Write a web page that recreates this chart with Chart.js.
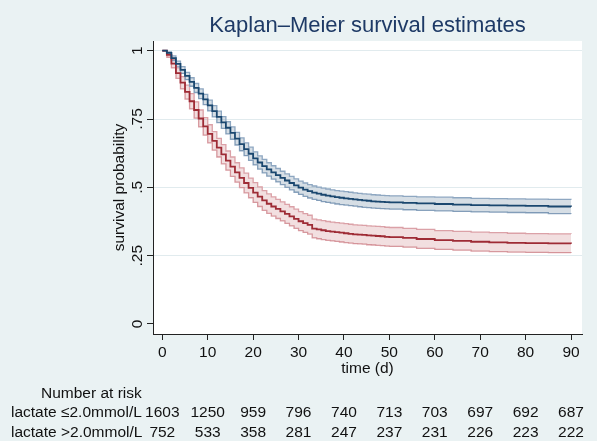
<!DOCTYPE html>
<html>
<head>
<meta charset="utf-8">
<script src="https://cdn.jsdelivr.net/npm/chart.js@4.4.1/dist/chart.umd.min.js"></script>
<style>
  html, body { margin: 0; padding: 0; background: #EAF2F3; }
  canvas { display: block; }
</style>
</head>
<body>
<canvas id="chart" width="597" height="441"></canvas>
<script>
const titleText = 'Kaplan\u2013Meier survival estimates';

// step times (days)
const times = [
  0, 1, 2, 3, 4, 5, 6, 7, 8, 9, 10, 11, 12, 13, 14, 15, 16, 17, 18, 19, 20,
  21, 22, 23, 24, 25, 26, 27, 28, 29, 30, 31, 32, 33, 34, 35, 36, 37, 38, 39, 40,
  41, 42, 43, 44, 45, 46, 47, 48, 49, 50, 53, 56, 60, 64, 68, 72, 76, 80, 85, 90
];

// lactate <=2.0 mmol/L
const lowS = [
  1.000, 0.992, 0.973, 0.952, 0.930, 0.908, 0.886, 0.864, 0.843, 0.822, 0.800,
  0.779, 0.758, 0.738, 0.718, 0.699, 0.678, 0.658, 0.640, 0.623, 0.606,
  0.591, 0.578, 0.566, 0.555, 0.545, 0.535, 0.525, 0.516, 0.507, 0.499,
  0.492, 0.486, 0.481, 0.477, 0.473, 0.470, 0.467, 0.464, 0.462, 0.460,
  0.458, 0.456, 0.454, 0.452, 0.451, 0.449, 0.448, 0.447, 0.446, 0.445,
  0.443, 0.441, 0.439, 0.437, 0.435, 0.434, 0.433, 0.432, 0.430, 0.429
];
const lowLo = [
  1.000, 0.987, 0.964, 0.941, 0.917, 0.894, 0.870, 0.847, 0.825, 0.803, 0.780,
  0.758, 0.737, 0.716, 0.696, 0.676, 0.655, 0.634, 0.616, 0.599, 0.582,
  0.567, 0.553, 0.541, 0.530, 0.520, 0.510, 0.500, 0.491, 0.482, 0.474,
  0.467, 0.461, 0.456, 0.452, 0.448, 0.445, 0.442, 0.439, 0.437, 0.435,
  0.433, 0.431, 0.429, 0.427, 0.426, 0.424, 0.423, 0.422, 0.421, 0.420,
  0.418, 0.416, 0.414, 0.412, 0.410, 0.409, 0.408, 0.407, 0.404, 0.403
];
const lowHi = [
  1.000, 0.996, 0.981, 0.962, 0.942, 0.921, 0.901, 0.880, 0.860, 0.840, 0.819,
  0.799, 0.779, 0.759, 0.740, 0.721, 0.701, 0.681, 0.663, 0.647, 0.630,
  0.615, 0.602, 0.590, 0.579, 0.569, 0.559, 0.549, 0.540, 0.531, 0.523,
  0.516, 0.510, 0.505, 0.501, 0.497, 0.494, 0.491, 0.488, 0.486, 0.484,
  0.482, 0.480, 0.478, 0.476, 0.475, 0.473, 0.472, 0.471, 0.470, 0.469,
  0.467, 0.465, 0.464, 0.462, 0.460, 0.459, 0.458, 0.457, 0.456, 0.455
];

// lactate >2.0 mmol/L
const highS = [
  1.000, 0.985, 0.953, 0.918, 0.883, 0.849, 0.815, 0.783, 0.752, 0.723, 0.696,
  0.670, 0.645, 0.621, 0.598, 0.576, 0.555, 0.535, 0.516, 0.498, 0.481,
  0.466, 0.452, 0.440, 0.430, 0.421, 0.412, 0.403, 0.394, 0.385, 0.376,
  0.369, 0.363, 0.349, 0.346, 0.343, 0.340, 0.338, 0.336, 0.334, 0.332,
  0.330, 0.328, 0.327, 0.326, 0.324, 0.323, 0.322, 0.321, 0.319, 0.318,
  0.315, 0.311, 0.307, 0.304, 0.301, 0.299, 0.297, 0.296, 0.295, 0.294
];
const highLo = [
  1.000, 0.976, 0.937, 0.899, 0.860, 0.823, 0.787, 0.753, 0.721, 0.691, 0.663,
  0.636, 0.611, 0.586, 0.563, 0.540, 0.519, 0.499, 0.480, 0.462, 0.445,
  0.430, 0.416, 0.405, 0.395, 0.386, 0.377, 0.368, 0.359, 0.350, 0.342,
  0.335, 0.329, 0.315, 0.312, 0.309, 0.306, 0.304, 0.302, 0.300, 0.298,
  0.296, 0.294, 0.293, 0.292, 0.290, 0.289, 0.288, 0.287, 0.285, 0.284,
  0.281, 0.277, 0.273, 0.270, 0.267, 0.265, 0.263, 0.262, 0.261, 0.260
];
const highHi = [
  1.000, 0.993, 0.968, 0.937, 0.905, 0.874, 0.843, 0.813, 0.783, 0.755, 0.729,
  0.704, 0.679, 0.656, 0.633, 0.611, 0.590, 0.571, 0.552, 0.534, 0.517,
  0.502, 0.488, 0.476, 0.465, 0.456, 0.447, 0.438, 0.429, 0.420, 0.411,
  0.404, 0.398, 0.384, 0.381, 0.378, 0.375, 0.373, 0.371, 0.369, 0.367,
  0.365, 0.363, 0.362, 0.361, 0.359, 0.358, 0.357, 0.356, 0.354, 0.353,
  0.350, 0.346, 0.342, 0.339, 0.336, 0.334, 0.332, 0.331, 0.330, 0.329
];

const xTicks = [0, 10, 20, 30, 40, 50, 60, 70, 80, 90];
const yTicks = [0, 0.25, 0.5, 0.75, 1];
const yTickLabels = ['0', '.25', '.5', '.75', '1'];

const riskTitle = 'Number at risk';
const riskLabels = ['lactate \u22642.0mmol/L', 'lactate >2.0mmol/L'];
const riskLow = [1603, 1250, 959, 796, 740, 713, 703, 697, 692, 687];
const riskHigh = [752, 533, 358, 281, 247, 237, 231, 226, 223, 222];

const FONT = '"Liberation Sans", Arial, Helvetica, sans-serif';
Chart.defaults.font.family = FONT;

function pts(vals) {
  return times.map((t, i) => ({ x: t, y: vals[i] }));
}

const kmDecor = {
  id: 'kmDecor',
  beforeDraw(chart) {
    const { ctx, chartArea: a } = chart;
    ctx.save();
    ctx.fillStyle = '#EAF2F3';
    ctx.fillRect(0, 0, chart.width, chart.height);
    ctx.fillStyle = '#ffffff';
    ctx.fillRect(a.left, a.top, a.right - a.left, a.bottom - a.top);
    ctx.restore();
  },
  afterDraw(chart) {
    const { ctx, chartArea: a, scales } = chart;
    ctx.save();
    ctx.textBaseline = 'alphabetic';

    // title, centred on the plot region
    ctx.fillStyle = '#1E3A66';
    ctx.font = '22px ' + FONT;
    ctx.textAlign = 'center';
    ctx.fillText(titleText, (a.left + a.right) / 2, 32);

    // y tick labels, turned like Stata does
    ctx.fillStyle = '#111';
    ctx.font = '15.5px ' + FONT;
    yTicks.forEach((v, i) => {
      ctx.save();
      ctx.translate(142, scales.y.getPixelForValue(v));
      ctx.rotate(-Math.PI / 2);
      ctx.fillText(yTickLabels[i], 0, 0);
      ctx.restore();
    });

    // number at risk table
    ctx.textAlign = 'left';
    ctx.fillText(riskTitle, 41, 398);
    ctx.fillText(riskLabels[0], 11, 417);
    ctx.fillText(riskLabels[1], 11, 437);
    ctx.textAlign = 'center';
    xTicks.forEach((t, i) => {
      const x = scales.x.getPixelForValue(t);
      ctx.fillText(String(riskLow[i]), x, 417);
      ctx.fillText(String(riskHigh[i]), x, 437);
    });
    ctx.restore();
  }
};

const lineBase = { pointRadius: 0, stepped: true, tension: 0 };

new Chart(document.getElementById('chart'), {
  type: 'line',
  data: {
    datasets: [
      Object.assign({ label: 'lactate \u22642.0mmol/L', data: pts(lowS), borderColor: '#1A476F', borderWidth: 1.8, fill: false, order: 0 }, lineBase),
      Object.assign({ label: 'lactate >2.0mmol/L', data: pts(highS), borderColor: '#9E2B35', borderWidth: 1.8, fill: false, order: 0 }, lineBase),
      Object.assign({ label: 'upper low', data: pts(lowHi), borderColor: '#8EA7C1', borderWidth: 1.3, fill: '+1', backgroundColor: 'rgba(26,71,111,0.18)', order: 1 }, lineBase),
      Object.assign({ label: 'lower low', data: pts(lowLo), borderColor: '#8EA7C1', borderWidth: 1.3, fill: false, order: 1 }, lineBase),
      Object.assign({ label: 'upper high', data: pts(highHi), borderColor: '#DBA1A7', borderWidth: 1.3, fill: '+1', backgroundColor: 'rgba(165,40,50,0.15)', order: 1 }, lineBase),
      Object.assign({ label: 'lower high', data: pts(highLo), borderColor: '#DBA1A7', borderWidth: 1.3, fill: false, order: 1 }, lineBase)
    ]
  },
  options: {
    responsive: false,
    animation: false,
    devicePixelRatio: 1,
    layout: { padding: { left: 0, right: 15, top: 41, bottom: 61 } },
    plugins: {
      legend: { display: false },
      tooltip: { enabled: false },
      title: { display: false }
    },
    scales: {
      x: {
        type: 'linear',
        min: -2.05,
        max: 92.42,
        afterBuildTicks: (s) => { s.ticks = xTicks.map((v) => ({ value: v })); },
        afterFit: (s) => { s.height = 46; },
        ticks: { font: { size: 15.5 }, color: '#111', padding: 3, maxRotation: 0, autoSkip: false },
        grid: { drawOnChartArea: false, drawTicks: true, tickLength: 6, tickColor: '#222' },
        border: { display: true, color: '#222', width: 1 },
        title: { display: true, text: 'time (d)', font: { size: 15.5 }, color: '#111', padding: { top: 0, bottom: 2 } }
      },
      y: {
        type: 'linear',
        min: -0.0366,
        max: 1.0355,
        afterBuildTicks: (s) => { s.ticks = yTicks.map((v) => ({ value: v })); },
        afterFit: (s) => { s.width = 153; },
        ticks: { display: false },
        grid: {
          color: (c) => (c.tick && c.tick.value === 0 ? 'rgba(0,0,0,0)' : '#E1EBEE'),
          lineWidth: 1,
          drawTicks: true,
          tickLength: 6,
          tickColor: '#222'
        },
        border: { display: true, color: '#222', width: 1 },
        title: { display: true, text: 'survival probability', font: { size: 15.5 }, color: '#111', padding: { top: 110, bottom: 0 } }
      }
    }
  },
  plugins: [kmDecor]
});
</script>
</body>
</html>
